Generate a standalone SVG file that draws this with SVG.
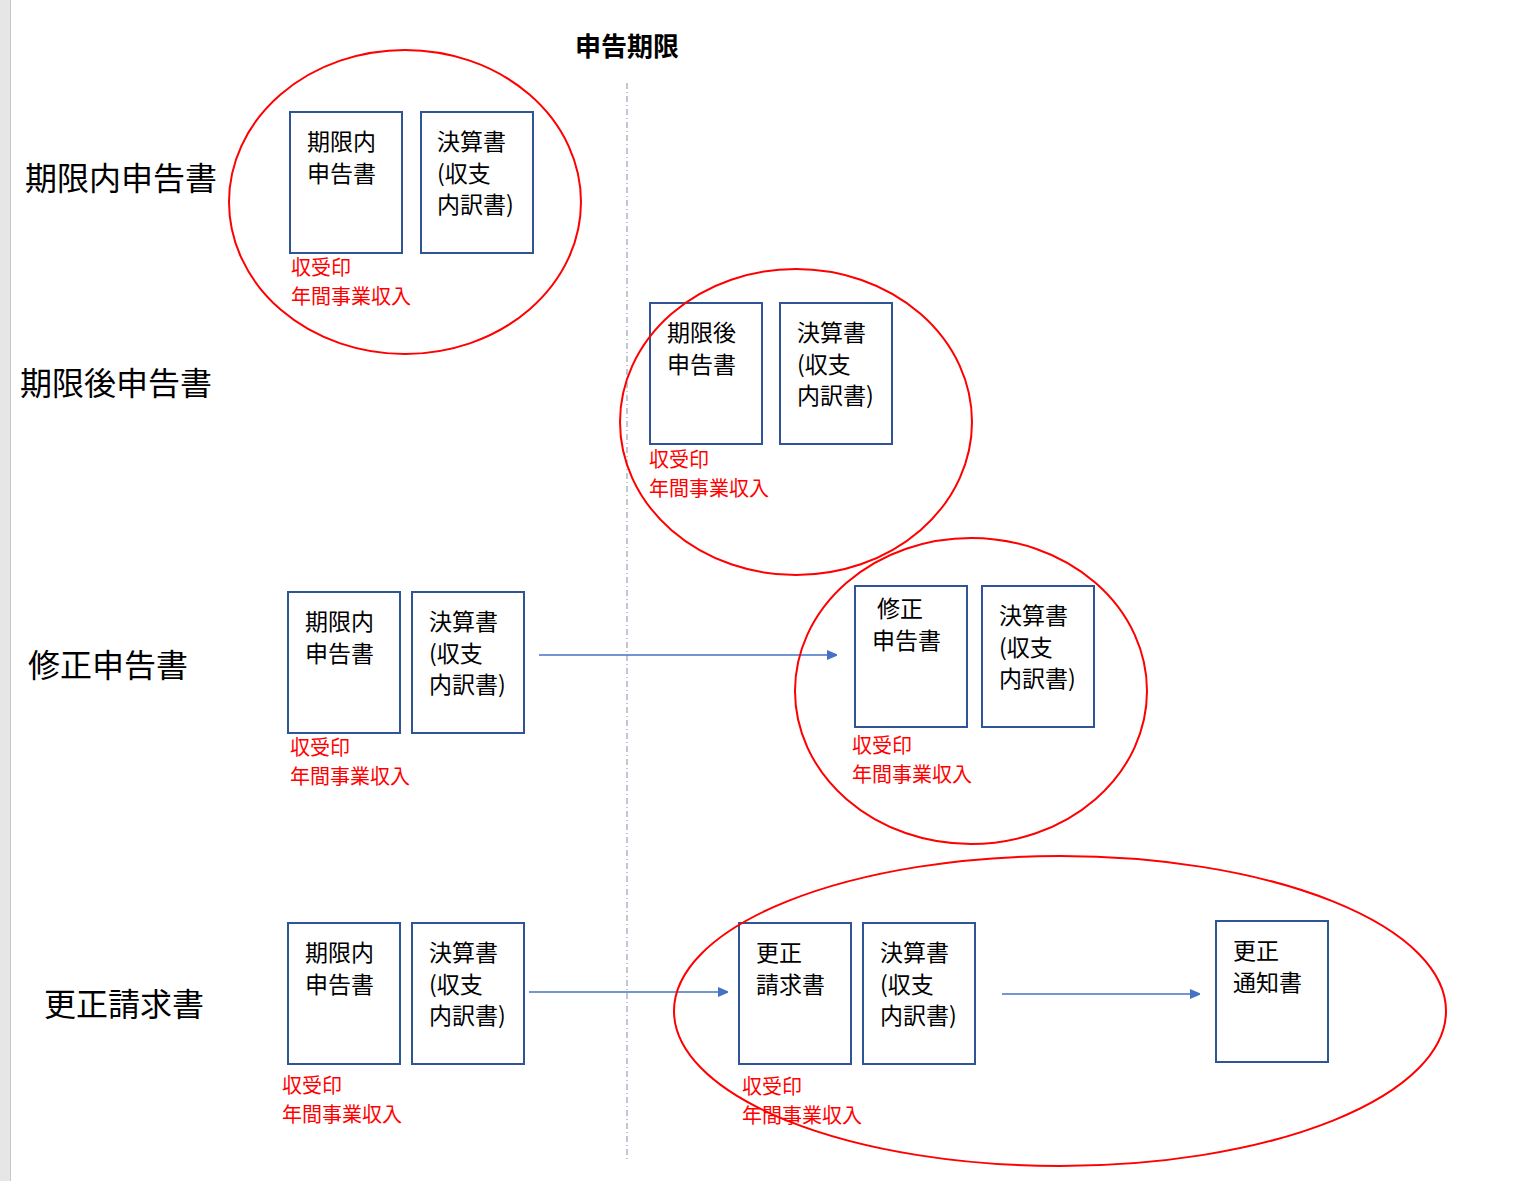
<svg xmlns="http://www.w3.org/2000/svg" width="1537" height="1181" viewBox="0 0 1537 1181">
<style>
text{font-family:"Noto Sans CJK JP","Noto Sans",sans-serif;}
.b{fill:#fff;stroke:#2F5597;stroke-width:2}
.t{font-size:23px;fill:#000}
.r{font-size:20px;fill:#FF0000}
.l{font-size:32px;fill:#000}
.e{fill:none;stroke:#FF0000;stroke-width:2}
.a{stroke:#4472C4;stroke-width:1.3;fill:none}
</style>
<defs><marker id="ah" markerWidth="10" markerHeight="10" refX="9" refY="5" orient="auto" markerUnits="userSpaceOnUse"><path d="M0,0 L12,5 L0,10 Z" fill="#4472C4"/></marker></defs>
<rect width="1537" height="1181" fill="#fff"/>
<rect x="0" y="0" width="10" height="1181" fill="#e6e6e6"/>
<line x1="10.5" y1="0" x2="10.5" y2="1181" stroke="#c8c8c8"/>
<text x="627" y="56" text-anchor="middle" font-size="26" font-weight="bold">申告期限</text>
<line x1="627" y1="83" x2="627" y2="1160" stroke="#7f8fa6" stroke-dasharray="6,3,1,3"/>
<text class="l" x="25" y="190">期限内申告書</text>
<text class="l" x="20" y="395">期限後申告書</text>
<text class="l" x="28" y="677">修正申告書</text>
<text class="l" x="44" y="1016">更正請求書</text>
<g id="connectors">
<line class="a" x1="539" y1="655" x2="836" y2="655" marker-end="url(#ah)"/>
<line class="a" x1="529" y1="992" x2="727" y2="992" marker-end="url(#ah)"/>
<line class="a" x1="1002" y1="994" x2="1199" y2="994" marker-end="url(#ah)"/>
</g>
<g id="r1">
<rect class="b" x="290" y="112" width="112" height="141"/>
<text class="t" x="307" y="150">期限内</text><text class="t" x="307" y="182">申告書</text>
<rect class="b" x="421" y="112" width="112" height="141"/>
<text class="t" x="437" y="150">決算書</text><text class="t" x="437" y="182">(収支</text><text class="t" x="437" y="213">内訳書)</text>
<text class="r" x="291" y="275">収受印</text><text class="r" x="291" y="304">年間事業収入</text>
</g>
<g id="r2">
<rect class="b" x="650" y="303" width="112" height="141"/>
<text class="t" x="667" y="341">期限後</text><text class="t" x="667" y="373">申告書</text>
<rect class="b" x="780" y="303" width="112" height="141"/>
<text class="t" x="797" y="341">決算書</text><text class="t" x="797" y="373">(収支</text><text class="t" x="797" y="404">内訳書)</text>
<text class="r" x="649" y="467">収受印</text><text class="r" x="649" y="496">年間事業収入</text>
</g>
<g id="r3">
<rect class="b" x="288" y="592" width="112" height="141"/>
<text class="t" x="305" y="630">期限内</text><text class="t" x="305" y="662">申告書</text>
<rect class="b" x="412" y="592" width="112" height="141"/>
<text class="t" x="429" y="630">決算書</text><text class="t" x="429" y="662">(収支</text><text class="t" x="429" y="693">内訳書)</text>
<text class="r" x="290" y="755">収受印</text><text class="r" x="290" y="784">年間事業収入</text>
<rect class="b" x="855" y="586" width="112" height="141"/>
<text class="t" x="877" y="617">修正</text><text class="t" x="872" y="649">申告書</text>
<rect class="b" x="982" y="586" width="112" height="141"/>
<text class="t" x="999" y="624">決算書</text><text class="t" x="999" y="656">(収支</text><text class="t" x="999" y="687">内訳書)</text>
<text class="r" x="852" y="753">収受印</text><text class="r" x="852" y="782">年間事業収入</text>
</g>
<g id="r4">
<rect class="b" x="288" y="923" width="112" height="141"/>
<text class="t" x="305" y="961">期限内</text><text class="t" x="305" y="993">申告書</text>
<rect class="b" x="412" y="923" width="112" height="141"/>
<text class="t" x="429" y="961">決算書</text><text class="t" x="429" y="993">(収支</text><text class="t" x="429" y="1024">内訳書)</text>
<text class="r" x="282" y="1093">収受印</text><text class="r" x="282" y="1122">年間事業収入</text>
<rect class="b" x="739" y="923" width="112" height="141"/>
<text class="t" x="756" y="961">更正</text><text class="t" x="756" y="993">請求書</text>
<rect class="b" x="863" y="923" width="112" height="141"/>
<text class="t" x="880" y="961">決算書</text><text class="t" x="880" y="993">(収支</text><text class="t" x="880" y="1024">内訳書)</text>
<text class="r" x="742" y="1094">収受印</text><text class="r" x="742" y="1123">年間事業収入</text>
<rect class="b" x="1216" y="921" width="112" height="141"/>
<text class="t" x="1233" y="959">更正</text><text class="t" x="1233" y="991">通知書</text>
</g>
<g id="ellipses">
<ellipse class="e" cx="405" cy="202" rx="176" ry="152"/>
<ellipse class="e" cx="796" cy="422" rx="176" ry="153"/>
<ellipse class="e" cx="971" cy="691" rx="176" ry="153"/>
<ellipse class="e" cx="1060" cy="1011" rx="386" ry="155"/>
</g>
</svg>
